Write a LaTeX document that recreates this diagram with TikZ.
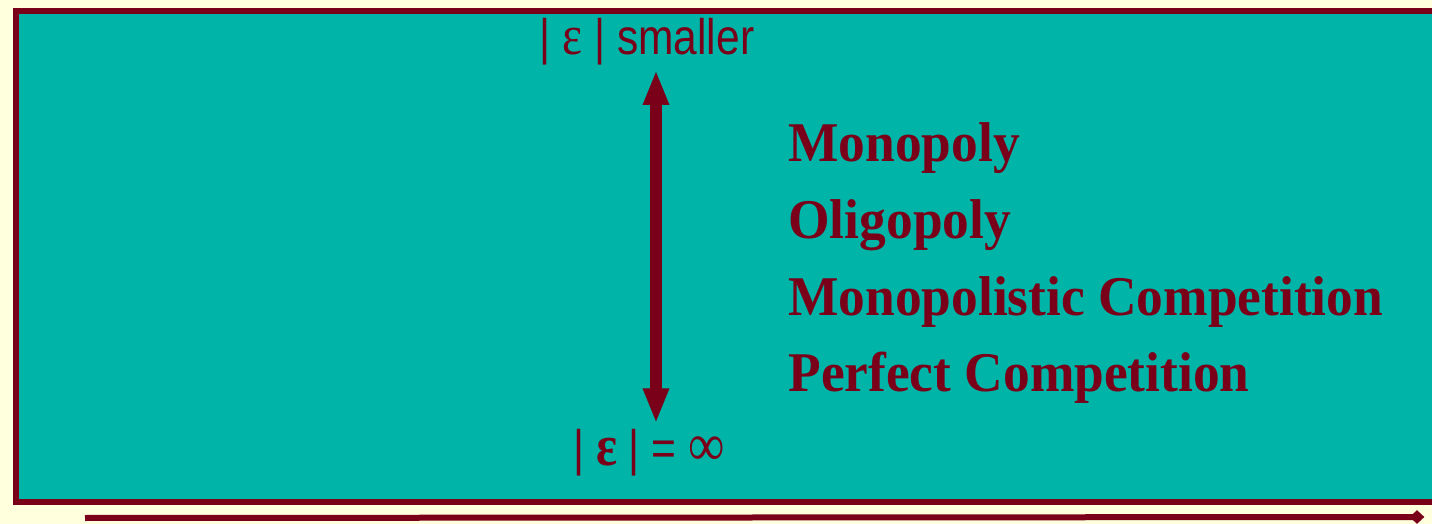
\documentclass[tikz,border=0pt]{standalone}
\usepackage{graphicx}
\usepackage{fontspec}
\setmainfont{Liberation Serif}
\newfontfamily\sansfnt{Liberation Sans}
\usetikzlibrary{arrows.meta,shapes.geometric,positioning}
\definecolor{cream}{RGB}{255,255,221}
\definecolor{sea}{RGB}{0,180,167}
\definecolor{wine}{RGB}{122,0,25}
\newcommand{\eps}{{\rmfamily\fontsize{28}{28}\selectfont ε}}
\newcommand{\epsbold}{{\rmfamily\bfseries\fontsize{29}{29}\selectfont ε}}
\newcommand{\infsym}{{\rmfamily\fontsize{30}{30}\selectfont ∞}}
\newcommand{\narrowtxt}[1]{\scalebox{0.85}[1]{#1}}
\newcommand{\tallertxt}[1]{\scalebox{1}[1.05]{#1}}

\begin{document}
\begin{tikzpicture}[x=0.5pt,y=-0.5pt,>=Stealth]
\tikzstyle{mkt}=[anchor=base west,inner sep=0,text=wine,font=\fontsize{26.7}{28}\selectfont\bfseries]
\tikzstyle{elab}=[anchor=base,inner sep=0,text=wine,font=\fontsize{25}{26}\selectfont\sansfnt]
\tikzstyle{tip}=[{Triangle[length=17.5pt,width=12pt]}-{Triangle[length=17.5pt,width=12pt]}]
\useasboundingbox (0,0) rectangle (1432,524);
\fill[cream] (0,0) rectangle (1432,524);
% frame
\draw[wine,line width=3pt,fill=sea] (16,11) rectangle (1445,502);
% elasticity labels and arrow
\node[elab] (top) at (647,55) {\narrowtxt{| \eps{} | smaller}};
\node[elab] (bot) at (649,465) {\narrowtxt{| \epsbold{} | = \infsym}};
\coordinate (ax) at (656,0);
\draw[wine,line width=6pt,tip,shorten <=2.5pt,shorten >=2pt] (bot.north -| ax) -- (top.south -| ax);
% market types
\node[mkt] (mono) at (788,162) {\tallertxt{Monopoly}};
\node[mkt] (oligo) at ([yshift=-38.25pt]mono.base west) {\tallertxt{Oligopoly}};
\node[mkt] (mcomp) at ([yshift=-38.25pt]oligo.base west) {\tallertxt{Monopolistic Competition}};
\node[mkt] (pcomp) at ([yshift=-38.25pt]mcomp.base west) {\tallertxt{Perfect Competition}};
% rule at the bottom
\coordinate (rs) at (85,518);
\node[diamond,fill=wine,inner sep=0,minimum width=7.5pt,minimum height=7pt] (re) at (1417,517) {};
\draw[wine,line width=3pt] (rs) -- (re.center);
\end{tikzpicture}
\end{document}
